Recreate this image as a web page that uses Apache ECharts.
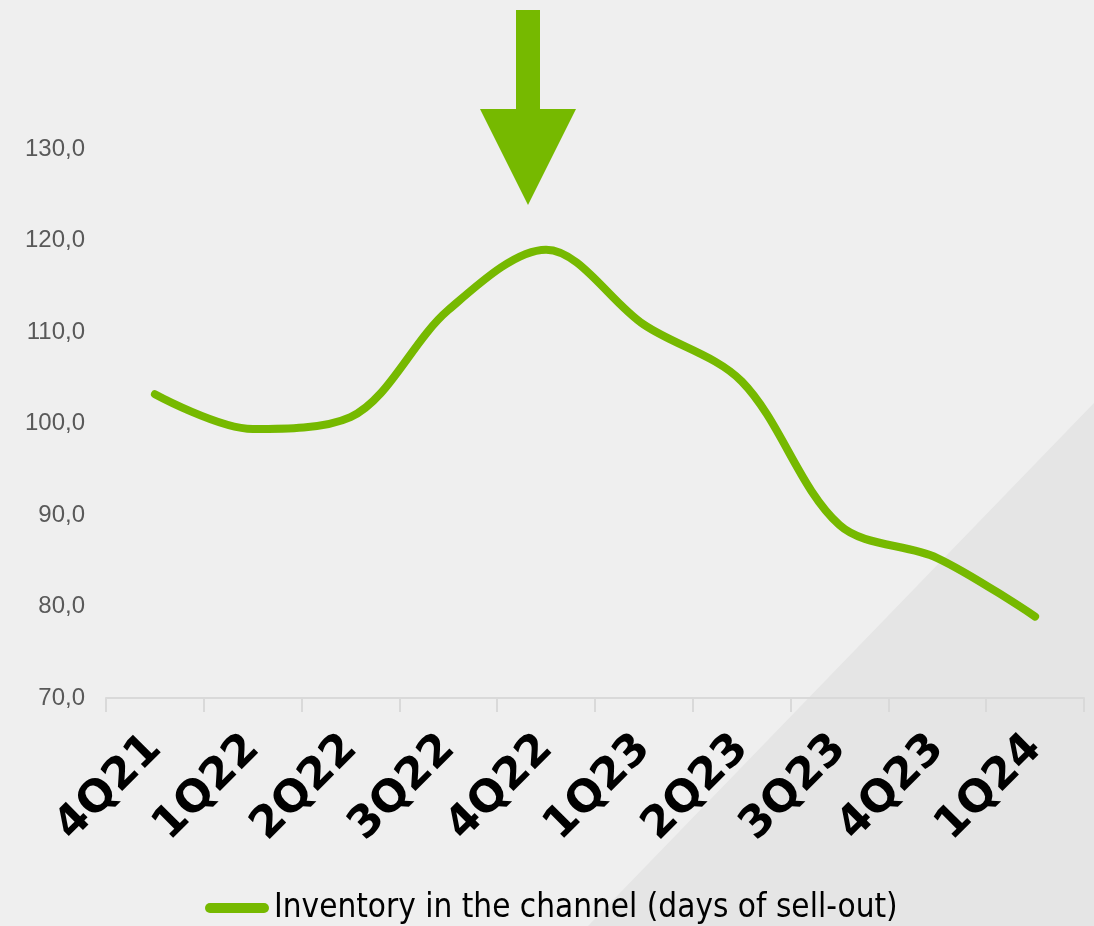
<!DOCTYPE html>
<html>
<head>
<meta charset="utf-8">
<script src="https://cdn.jsdelivr.net/npm/echarts@6/dist/echarts.min.js"></script>
<style>
  html, body { margin: 0; padding: 0; background: #efefef; }
  #chart { width: 1094px; height: 926px; }
</style>
</head>
<body>
<div id="chart"></div>
<script>
const categories = ['4Q21', '1Q22', '2Q22', '3Q22', '4Q22', '1Q23', '2Q23', '3Q23', '4Q23', '1Q24'];
const inventoryDays = [103.2, 99.4, 100.7, 112.4, 119.0, 110.8, 104.6, 88.9, 85.3, 78.9];
const seriesName = 'Inventory in the channel (days of sell-out)';
const yMin = 70, yMax = 130, yStep = 10;

const green = '#76b900';
const chart = echarts.init(document.getElementById('chart'), null, { renderer: 'canvas' });

chart.setOption({
  backgroundColor: '#efefef',
  animation: false,
  graphic: [
    {
      type: 'polygon', z: -10, silent: true,
      shape: { points: [[1094, 403], [1094, 926], [588, 926]] },
      style: { fill: '#e5e5e5' }
    },
    {
      type: 'polygon', z: 10, silent: true,
      shape: { points: [[516, 10], [540, 10], [540, 109], [576, 109], [528, 205], [480, 109], [516, 109]] },
      style: { fill: green }
    }
  ],
  grid: { left: 106, right: 10, top: 149, bottom: 228, containLabel: false, outerBoundsMode: 'none' },
  legend: {
    data: [{ name: seriesName, icon: 'path://M5,0 L59,0 A5,5 0 0 1 59,10 L5,10 A5,5 0 0 1 5,0 Z' }],
    left: 200, top: 885,
    itemWidth: 64, itemHeight: 10,
    itemStyle: { color: green },
    textStyle: { fontFamily: 'DejaVu Sans Condensed', fontSize: 33, color: '#000', lineHeight: 36 }
  },
  xAxis: {
    type: 'category',
    data: categories,
    boundaryGap: true,
    axisLine: { show: true, lineStyle: { color: '#d9d9d9', width: 2 } },
    axisTick: { show: true, length: 14, lineStyle: { color: '#d9d9d9', width: 2 } },
    axisLabel: {
      rotate: 45, interval: 0, margin: 44,
      fontFamily: 'DejaVu Sans', fontWeight: 'bold', fontSize: 44, color: '#000'
    },
    splitLine: { show: false }
  },
  yAxis: {
    type: 'value',
    min: yMin, max: yMax, interval: yStep,
    axisLine: { show: false },
    axisTick: { show: false },
    splitLine: { show: false },
    axisLabel: {
      margin: 21, fontFamily: 'Liberation Sans', fontSize: 24, color: '#595959',
      formatter: v => v.toFixed(1).replace('.', ',')
    }
  },
  series: [{
    name: seriesName,
    type: 'line',
    data: inventoryDays,
    smooth: 0.33,
    symbol: 'none',
    lineStyle: { color: green, width: 8, cap: 'round' },
    itemStyle: { color: green }
  }]
});
</script>
</body>
</html>
